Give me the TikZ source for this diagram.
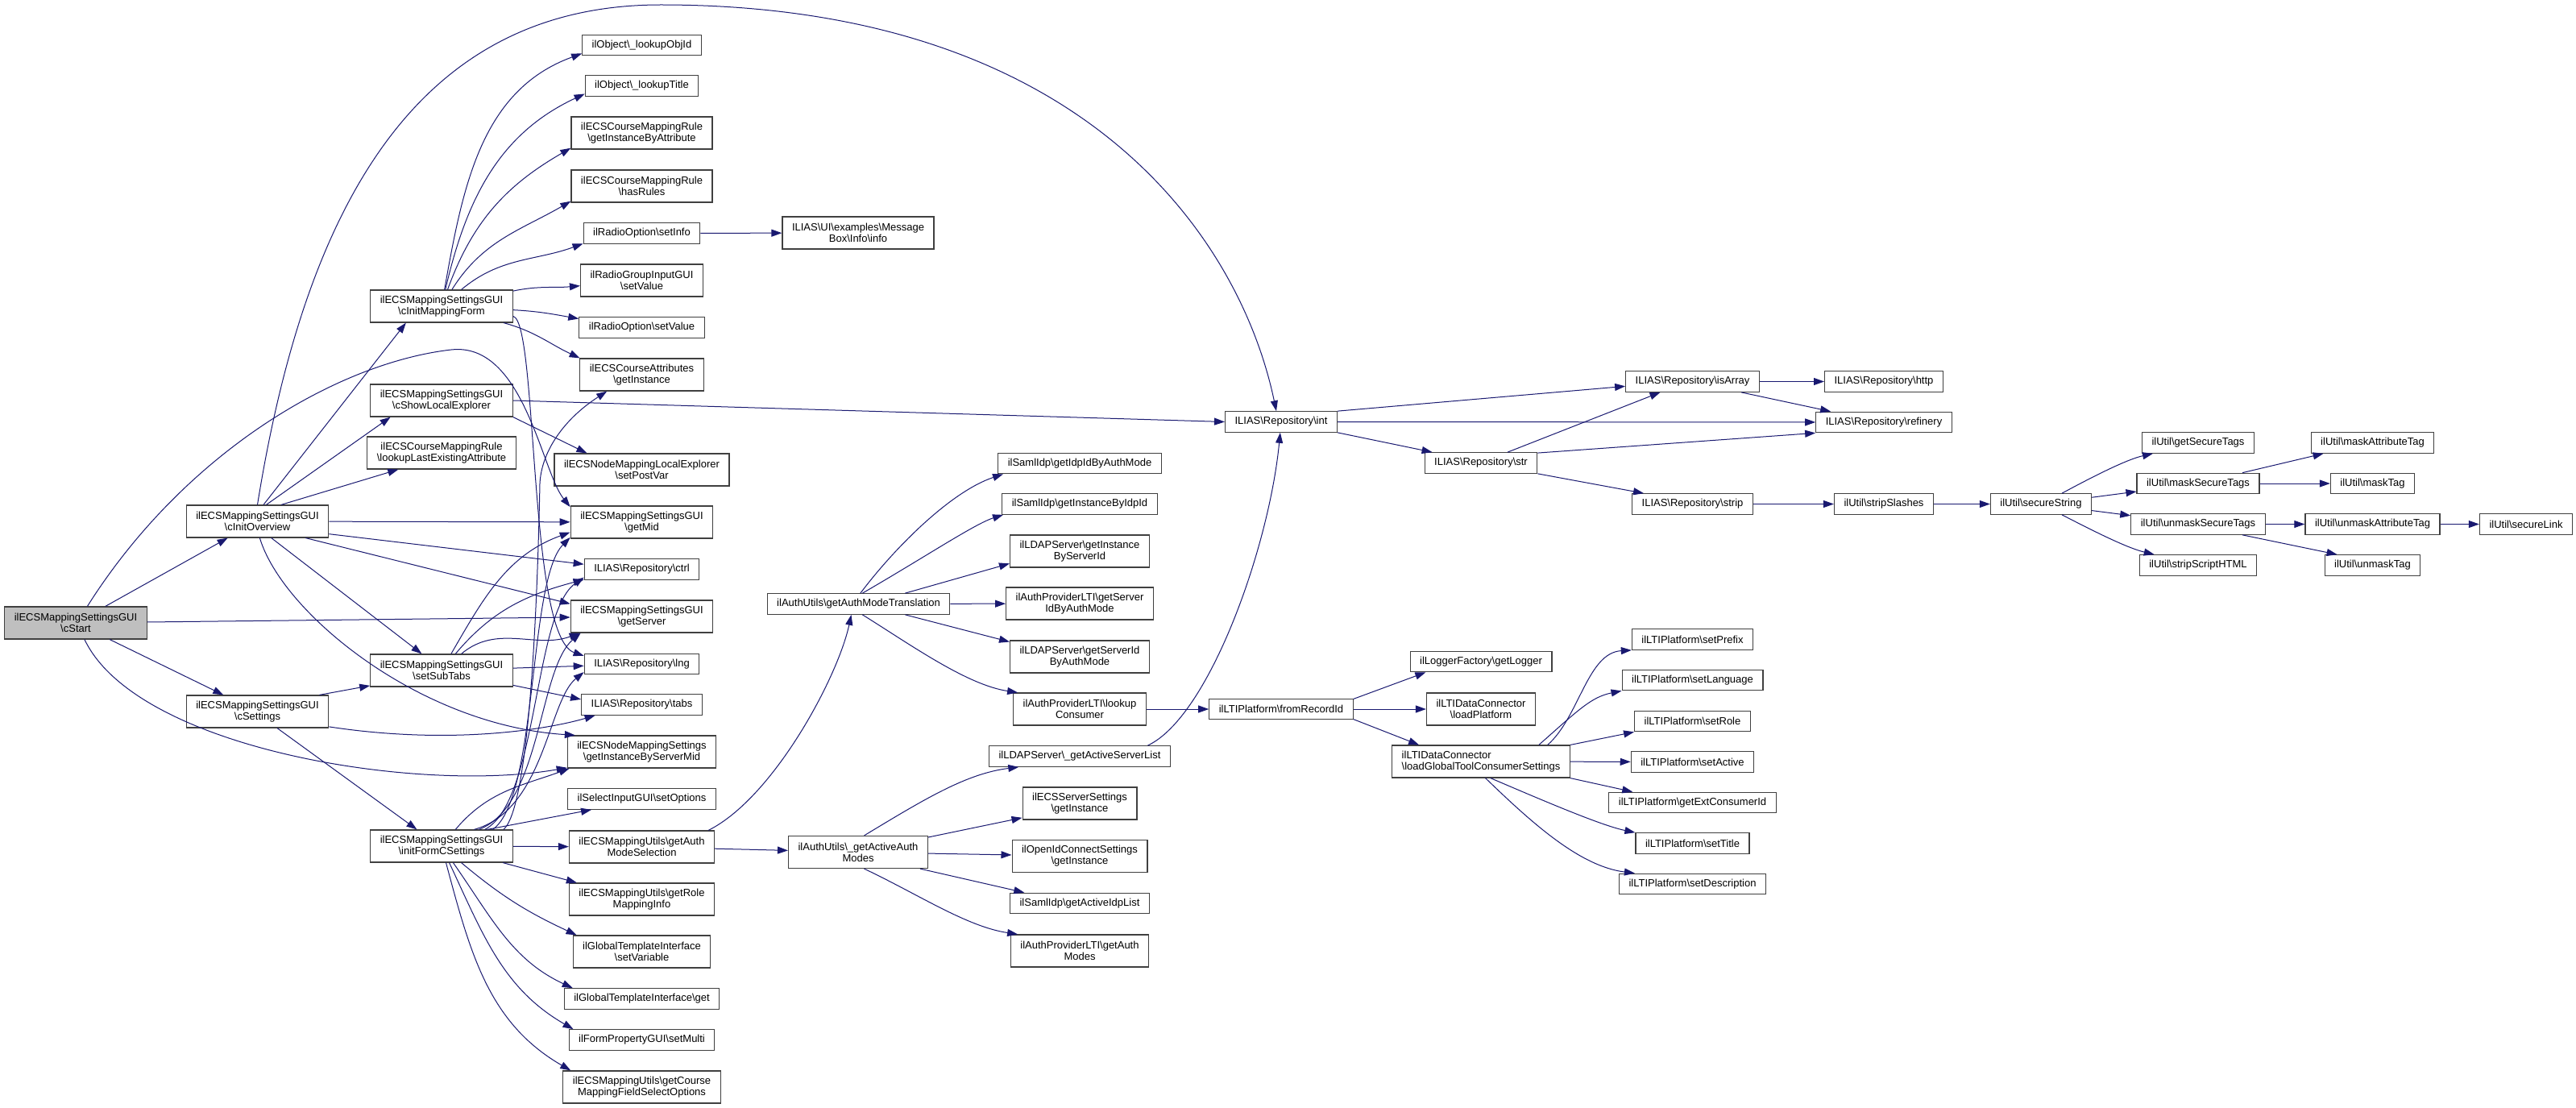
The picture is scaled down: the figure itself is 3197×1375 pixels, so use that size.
\documentclass[tikz,border=0pt]{standalone}
\usepackage{fontspec}
\setmainfont{Liberation Sans}
\usetikzlibrary{arrows.meta}
\definecolor{callblue}{RGB}{25,25,112}
\definecolor{rootgray}{RGB}{191,191,191}
\newcommand{\bs}{\textbackslash}
\tikzset{
  fn/.style={draw=black!75, line width=1.2pt, fill=white, inner xsep=12pt, inner ysep=1pt,
    minimum height=25.5pt, align=center, font=\fontsize{13}{14}\selectfont},
  fntwo/.style={fn, minimum height=40pt},
  call/.style={draw=callblue, line width=1pt, -{Triangle[length=13pt,width=9pt]}}
}
\begin{document}
\begin{tikzpicture}[x=1pt,y=-1pt]
\useasboundingbox (0,0) rectangle (3197,1375);
% rank 1-3
\node[fntwo,fill=rootgray] (start) at (94,773) {ilECSMappingSettingsGUI\\\bs cStart};
\node[fntwo] (overview) at (319.5,647) {ilECSMappingSettingsGUI\\\bs cInitOverview};
\node[fntwo] (settings) at (319.5,883) {ilECSMappingSettingsGUI\\\bs cSettings};
\node[fntwo] (mapform) at (548,380) {ilECSMappingSettingsGUI\\\bs cInitMappingForm};
\node[fntwo] (localexp) at (548,497) {ilECSMappingSettingsGUI\\\bs cShowLocalExplorer};
\node[fntwo] (lastattr) at (548,562) {ilECSCourseMappingRule\\\bs lookupLastExistingAttribute};
\node[fntwo] (subtabs) at (548,832) {ilECSMappingSettingsGUI\\\bs setSubTabs};
\node[fntwo] (formcs) at (548,1050) {ilECSMappingSettingsGUI\\\bs initFormCSettings};
% rank 4
\node[fn] (objid) at (796.5,56) {ilObject\bs\_lookupObjId};
\node[fn] (objtitle) at (796.5,106.5) {ilObject\bs\_lookupTitle};
\node[fntwo] (ruleattr) at (796.5,165) {ilECSCourseMappingRule\\\bs getInstanceByAttribute};
\node[fntwo] (hasrules) at (796.5,231) {ilECSCourseMappingRule\\\bs hasRules};
\node[fn] (setinfo) at (796.5,289.5) {ilRadioOption\bs setInfo};
\node[fntwo] (groupval) at (796.5,348) {ilRadioGroupInputGUI\\\bs setValue};
\node[fn] (radioval) at (796.5,406.5) {ilRadioOption\bs setValue};
\node[fntwo] (crsattr) at (796.5,465) {ilECSCourseAttributes\\\bs getInstance};
\node[fntwo] (postvar) at (796.5,583) {ilECSNodeMappingLocalExplorer\\\bs setPostVar};
\node[fntwo] (getmid) at (796.5,648) {ilECSMappingSettingsGUI\\\bs getMid};
\node[fn] (ctrl) at (796.5,706.5) {ILIAS\bs Repository\bs ctrl};
\node[fntwo] (getserver) at (796.5,765) {ilECSMappingSettingsGUI\\\bs getServer};
\node[fn] (lng) at (796.5,824) {ILIAS\bs Repository\bs lng};
\node[fn] (tabs) at (796.5,874.5) {ILIAS\bs Repository\bs tabs};
\node[fntwo] (servermid) at (796.5,933) {ilECSNodeMappingSettings\\\bs getInstanceByServerMid};
\node[fn] (setopts) at (796.5,991.5) {ilSelectInputGUI\bs setOptions};
\node[fntwo] (authsel) at (796.5,1051) {ilECSMappingUtils\bs getAuth\\ModeSelection};
\node[fntwo] (rolemap) at (796.5,1116) {ilECSMappingUtils\bs getRole\\MappingInfo};
\node[fntwo] (setvar) at (796.5,1181) {ilGlobalTemplateInterface\\\bs setVariable};
\node[fn] (tplget) at (796.5,1239.5) {ilGlobalTemplateInterface\bs get};
\node[fn] (setmulti) at (796.5,1290.5) {ilFormPropertyGUI\bs setMulti};
\node[fntwo] (fieldopts) at (796.5,1349) {ilECSMappingUtils\bs getCourse\\MappingFieldSelectOptions};
% rank 5-6
\node[fntwo] (msginfo) at (1065,289) {ILIAS\bs UI\bs examples\bs Message\\Box\bs Info\bs info};
\node[fn] (authtrans) at (1065.5,749.5) {ilAuthUtils\bs getAuthModeTranslation};
\node[fntwo] (activeauth) at (1065,1057.5) {ilAuthUtils\bs\_getActiveAuth\\Modes};
\node[fn] (idpbymode) at (1340,575) {ilSamlIdp\bs getIdpIdByAuthMode};
\node[fn] (idpinst) at (1340,625.5) {ilSamlIdp\bs getInstanceByIdpId};
\node[fntwo] (ldapinst) at (1340,684) {ilLDAPServer\bs getInstance\\ByServerId};
\node[fntwo] (ltiserver) at (1340,749) {ilAuthProviderLTI\bs getServer\\IdByAuthMode};
\node[fntwo] (ldapserver) at (1340,815) {ilLDAPServer\bs getServerId\\ByAuthMode};
\node[fntwo] (lticonsumer) at (1340,880) {ilAuthProviderLTI\bs lookup\\Consumer};
\node[fn] (ldaplist) at (1340,938.5) {ilLDAPServer\bs\_getActiveServerList};
\node[fntwo] (ecsserver) at (1340,997) {ilECSServerSettings\\\bs getInstance};
\node[fntwo] (oidc) at (1340,1062.5) {ilOpenIdConnectSettings\\\bs getInstance};
\node[fn] (idplist) at (1340,1121) {ilSamlIdp\bs getActiveIdpList};
\node[fntwo] (ltimodes) at (1340,1180) {ilAuthProviderLTI\bs getAuth\\Modes};
% rank 7-14
\node[fn] (repoint) at (1590,523.5) {ILIAS\bs Repository\bs int};
\node[fn] (fromrec) at (1590,880) {ilLTIPlatform\bs fromRecordId};
\node[fn] (repostr) at (1838,574.5) {ILIAS\bs Repository\bs str};
\node[fn] (logger) at (1838,821) {ilLoggerFactory\bs getLogger};
\node[fntwo] (loadplat) at (1838,880) {ilLTIDataConnector\\\bs loadPlatform};
\node[fntwo,align=left] (loadglobal) at (1838,945) {ilLTIDataConnector\\\bs loadGlobalToolConsumerSettings};
\node[fn] (isarray) at (2100.5,473.5) {ILIAS\bs Repository\bs isArray};
\node[fn] (strip) at (2100.5,625.5) {ILIAS\bs Repository\bs strip};
\node[fn] (setprefix) at (2100.5,793.5) {ilLTIPlatform\bs setPrefix};
\node[fn] (setlang) at (2100.5,844) {ilLTIPlatform\bs setLanguage};
\node[fn] (setrole) at (2100.5,895) {ilLTIPlatform\bs setRole};
\node[fn] (setactive) at (2100.5,945.5) {ilLTIPlatform\bs setActive};
\node[fn] (extid) at (2100.5,996) {ilLTIPlatform\bs getExtConsumerId};
\node[fn] (settitle) at (2100.5,1046.5) {ilLTIPlatform\bs setTitle};
\node[fn] (setdesc) at (2100.5,1097) {ilLTIPlatform\bs setDescription};
\node[fn] (http) at (2338,473.5) {ILIAS\bs Repository\bs http};
\node[fn] (refinery) at (2338,524) {ILIAS\bs Repository\bs refinery};
\node[fn] (slashes) at (2338,625.5) {ilUtil\bs stripSlashes};
\node[fn] (securestr) at (2533,625.5) {ilUtil\bs secureString};
\node[fn] (gettags) at (2728,549.5) {ilUtil\bs getSecureTags};
\node[fn] (masktags) at (2728,600) {ilUtil\bs maskSecureTags};
\node[fn] (unmasktags) at (2728,650.5) {ilUtil\bs unmaskSecureTags};
\node[fn] (striphtml) at (2728,701.5) {ilUtil\bs stripScriptHTML};
\node[fn] (maskattr) at (2944.5,549.5) {ilUtil\bs maskAttributeTag};
\node[fn] (masktag) at (2944.5,600) {ilUtil\bs maskTag};
\node[fn] (unmaskattr) at (2944.5,650.5) {ilUtil\bs unmaskAttributeTag};
\node[fn] (unmasktag) at (2944.5,701.5) {ilUtil\bs unmaskTag};
\node[fn] (securelink) at (3135,650.5) {ilUtil\bs secureLink};

% calls of cStart
\draw[call] (start) -- (overview);
\draw[call] (start) -- (settings);
\draw[call] (start) -- (getserver);
\draw[call] (start.-62) .. controls (170,930) and (520,985) .. (servermid.192);
\draw[call] (start.55) .. controls (230,560) and (420,450) .. (560,434) .. controls (650,424) and (672,585) .. (getmid.168);
% calls of cInitOverview
\draw[call] (overview.north) .. controls (380,250) and (520,6) .. (820,6) .. controls (1350,6) and (1540,300) .. ([xshift=-6pt]repoint.north);
\draw[call] (overview.70) -- (mapform.-155);
\draw[call] (overview.62) -- (localexp.-162);
\draw[call] (overview.35) -- (lastattr.-159);
\draw[call] (overview) -- (getmid);
\draw[call] (overview.-10) -- (ctrl.175);
\draw[call] (overview.-19) -- (getserver.170);
\draw[call] (overview.-50) -- (subtabs.140);
\draw[call] (overview.-82) .. controls (350,760) and (520,900) .. (servermid.166);
% calls of cSettings
\draw[call] (settings.15) -- (subtabs.-168);
\draw[call] (settings.-12) .. controls (560,925) and (680,905) .. (tabs.-167);
\draw[call] (settings.-40) -- (formcs.146);
% calls of cInitMappingForm
\draw[call] (mapform) to[out=80,in=200] (objid.188);
\draw[call] (mapform) to[out=77,in=205] (objtitle.188);
\draw[call] (mapform) to[out=70,in=210] (ruleattr.192);
\draw[call] (mapform) to[out=58,in=210] (hasrules.192);
\draw[call] (mapform) to[out=40,in=200] (setinfo.190);
\draw[call] (mapform) to[out=12,in=185] (groupval.185);
\draw[call] (mapform) to[out=-3,in=170] (radioval.172);
\draw[call] (mapform) to[out=-15,in=155] (crsattr.165);
\draw[call] (mapform.-8) .. controls (668,400) and (655,790) .. (lng.172);
% calls of cShowLocalExplorer
\draw[call] (localexp.east) -- (repoint.west);
\draw[call] (localexp.south east) -- ([xshift=41pt]postvar.north west);
% calls of setSubTabs
\draw[call] (subtabs) to[out=60,in=200] (getmid.188);
\draw[call] (subtabs) to[out=50,in=195] (ctrl.190);
\draw[call] (subtabs) to[out=40,in=200] (getserver.195);
\draw[call] (subtabs) -- (lng);
\draw[call] (subtabs) -- (tabs.175);
% calls of initFormCSettings
\draw[call] (formcs.15) .. controls (660,1000) and (668,700) .. (670,600) .. controls (672,560) and (700,520) .. ([xshift=34pt]crsattr.south west);
\draw[call] (formcs.18) .. controls (668,990) and (655,720) .. (getmid.192);
\draw[call] (formcs.21) .. controls (668,995) and (662,760) .. (ctrl.188);
\draw[call] (formcs.24) .. controls (672,1000) and (668,830) .. ([xshift=13pt]getserver.south west);
\draw[call] (formcs.27) .. controls (676,1005) and (680,870) .. (lng.188);
\draw[call] (formcs) to[out=50,in=200] ([xshift=3pt]servermid.south west);
\draw[call] (formcs.20) -- ([xshift=30pt]setopts.south west);
\draw[call] (formcs) -- (authsel);
\draw[call] (formcs) -- ([xshift=10pt]rolemap.north west);
\draw[call] (formcs) to[out=-40,in=155] ([xshift=5pt]setvar.north west);
\draw[call] (formcs) to[out=-55,in=155] ([xshift=11pt]tplget.north west);
\draw[call] (formcs) to[out=-65,in=150] ([xshift=6pt]setmulti.north west);
\draw[call] (formcs) to[out=-75,in=150] ([xshift=10pt]fieldopts.north west);
% further calls
\draw[call] (setinfo) -- (msginfo);
\draw[call] (authsel.14) .. controls (960,990) and (1040,840) .. (authtrans.-124);
\draw[call] (authsel) -- (activeauth);
\draw[call] (authtrans.80) .. controls (1110,680) and (1180,610) .. (idpbymode.-172);
\draw[call] (authtrans.70) .. controls (1150,690) and (1210,650) .. (idpinst.-172);
\draw[call] (authtrans.13) -- (ldapinst.-170);
\draw[call] (authtrans) -- (ltiserver);
\draw[call] (authtrans.-13) -- (ldapserver.168);
\draw[call] (authtrans.-70) .. controls (1130,800) and (1200,850) .. (lticonsumer.165);
\draw[call] (activeauth.70) .. controls (1150,990) and (1200,960) .. (ldaplist.-170);
\draw[call] (activeauth.12) -- (ecsserver.-166);
\draw[call] (activeauth) -- (oidc);
\draw[call] (activeauth.-15) -- (idplist.169);
\draw[call] (activeauth.-70) .. controls (1140,1110) and (1200,1150) .. (ltimodes.165);
\draw[call] (lticonsumer) -- (fromrec);
\draw[call] (ldaplist.9) .. controls (1500,890) and (1575,680) .. (repoint.-95);
\draw[call] (fromrec.8) -- (logger.-169);
\draw[call] (fromrec) -- (loadplat);
\draw[call] (fromrec.-8) -- (loadglobal.165);
\draw[call] (loadglobal.14) .. controls (1960,890) and (1970,810) .. (setprefix.south west);
\draw[call] (loadglobal.16) .. controls (1960,880) and (1975,865) .. (setlang.south west);
\draw[call] (loadglobal.north east) -- (setrole.south west);
\draw[call] (loadglobal) -- (setactive);
\draw[call] (loadglobal.south east) -- ([xshift=30pt]extid.north west);
\draw[call] (loadglobal.-60) .. controls (1930,1000) and (1990,1025) .. (settitle.north west);
\draw[call] (loadglobal.-75) .. controls (1900,1020) and (1960,1075) .. ([xshift=20pt]setdesc.north west);
\draw[call] (repoint.north east) -- (isarray.184);
\draw[call] (repoint) -- (refinery);
\draw[call] (repoint.south east) -- ([xshift=10pt]repostr.north west);
\draw[call] ([xshift=33pt]repostr.north) -- ([xshift=-40pt]isarray.south);
\draw[call] (repostr.10) -- (refinery.south west);
\draw[call] (repostr.south east) -- ([xshift=15pt]strip.north west);
\draw[call] (isarray) -- (http);
\draw[call] ([xshift=-23pt]isarray.south east) -- ([xshift=19pt]refinery.north west);
\draw[call] (strip) -- (slashes);
\draw[call] (slashes) -- (securestr);
\draw[call] ([xshift=26pt]securestr.north) .. controls (2600,590) and (2640,570) .. ([xshift=14pt]gettags.south west);
\draw[call] (securestr) -- (masktags);
\draw[call] (securestr) -- (unmasktags);
\draw[call] ([xshift=26pt]securestr.south) .. controls (2600,660) and (2640,680) .. ([xshift=19pt]striphtml.north west);
\draw[call] ([xshift=55pt]masktags.north) -- ([xshift=16pt]maskattr.south west);
\draw[call] (masktags) -- (masktag);
\draw[call] (unmasktags) -- (unmaskattr);
\draw[call] ([xshift=55pt]unmasktags.south) -- ([xshift=16pt]unmasktag.north west);
\draw[call] (unmaskattr) -- (securelink);
\end{tikzpicture}
\end{document}
